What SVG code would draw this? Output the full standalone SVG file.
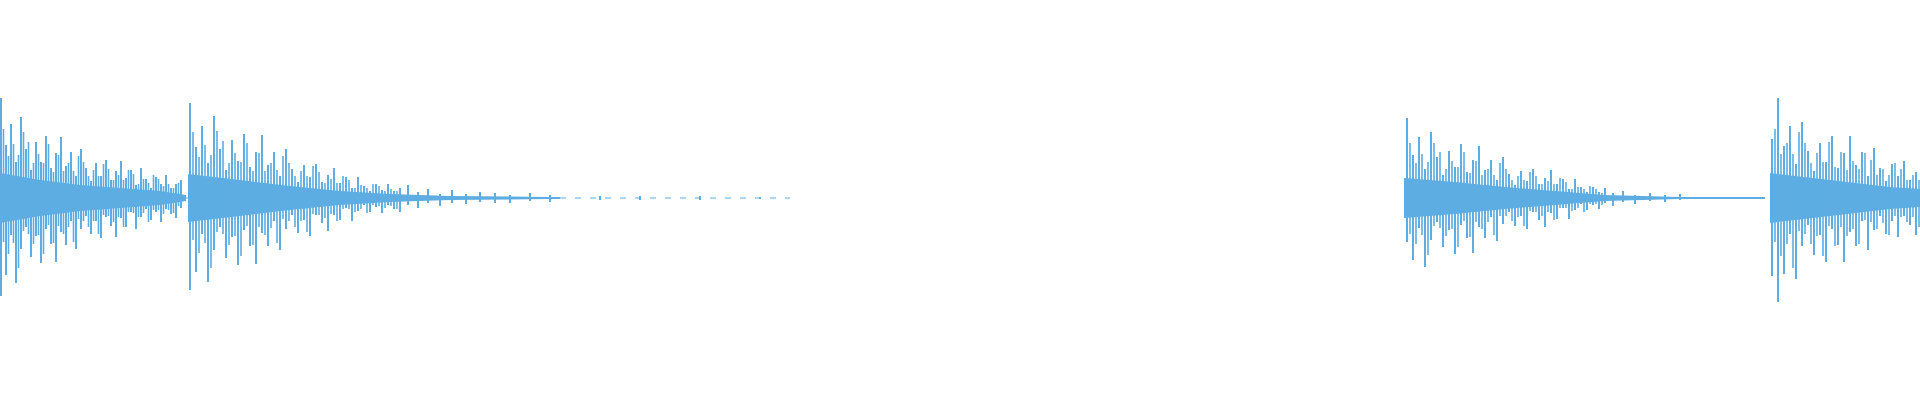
<svg xmlns="http://www.w3.org/2000/svg" width="1920" height="400" viewBox="0 0 1920 400">
<style>.w{stroke:#5DADE2;stroke-width:2;fill:none}.v{stroke:#5DADE2;stroke-width:1.6;fill:none}.c{fill:#5DADE2}.b{stroke:#5DADE2;stroke-width:1.2}.d{stroke:#5DADE2;stroke-width:1.2;stroke-dasharray:6 9}</style>
<rect width="1920" height="400" fill="#fff"/>
<g id="baseline"><path class="b" d="M0 198H440M1404 198H1765M1770 198H1920"/><path class="d" d="M440 198H790"/></g>
<g id="burst1">
<polygon class="c" points="0,173 40,180 80,185 120,188 160,191 186,195 186,201 160,205 120,208 80,211 40,216 0,223"/>
<path class="w" d="M1 98V296M6 145V275M11 124V235M16 162V283M21 117V249M26 149V227M31 170V257M36 142V236M41 162V263M46 136V229M51 168V244M56 153V262M61 137V232M66 166V245M71 152V221M76 176V249M81 149V229M86 168V216M91 181V234M96 163V221M101 176V238M106 160V217M111 180V226M116 171V237M121 161V218M126 178V227M131 170V212M136 185V229M141 168V217M146 179V209M151 188V220M156 177V212M161 184V222M166 175V209M171 188V214M176 184V218M181 180V208"/>
<path class="v" d="M3.5 129V242M8.5 156V254M13.5 144V243M18.5 155V268M23.5 132V231M28.5 142V234M33.5 163V244M38.5 154V235M43.5 163V254M48.5 144V225M53.5 172V243M58.5 155V226M63.5 171V234M68.5 163V227M73.5 171V242M78.5 156V219M83.5 162V221M88.5 176V227M93.5 170V221M98.5 176V234M103.5 164V215M108.5 169V216M113.5 180V222M118.5 175V217M123.5 180V227M128.5 170V212M133.5 174V213M138.5 184V217M143.5 179V213M148.5 183V222M153.5 175V210M158.5 179V210M163.5 186V214M168.5 184V210M173.5 188V213M178.5 183V206"/>
</g>
<g id="burst2">
<polygon class="c" points="188,174 240,180 290,186 340,191 390,194 450,196 550,197 560,197 560,199 550,199 450,200 390,202 340,205 290,210 240,216 188,222"/>
<path class="w" d="M190 103V290M196 147V272M202 126V234M208 163V282M214 116V250M220 149V227M226 170V258M232 140V237M238 161V265M244 134V230M250 167V246M256 152V264M262 135V233M268 165V246M274 152V221M280 176V250M286 149V229M292 169V215M298 182V233M304 165V220M310 177V236M316 164V215M322 182V223M328 175V231M334 168V215M340 183V220M346 177V208M352 188V221M358 177V211M364 186V205M370 191V212M376 184V207M382 190V213M388 184V205M394 191V209M400 188V212M408 185V205M418 192V208M428 189V203M440 194V206M452 190V203M466 194V204M480 192V202M495 193V203M510 195V203M530 193V201M550 195V202M600 196V200M640 196V200M700 196V200M760 197V199"/>
<path class="v" d="M193 132V240M199 157V253M205 145V243M211 155V268M217 131V232M223 141V234M229 163V245M235 153V236M241 162V256M247 143V226M253 171V245M259 153V227M265 171V235M271 163V228M277 170V243M283 156V219M289 163V221M295 176V227M301 171V221M307 176V232M313 166V214M319 172V215M325 183V218M331 179V214M337 183V221M343 176V209M349 180V209M355 188V212M361 185V209M367 188V213M373 184V205M379 186V206M385 191V208M391 189V206M397 191V209"/>
</g>
<g id="burst3">
<polygon class="c" points="1404,178 1455,182 1505,187 1555,191 1605,195 1680,197 1765,197 1765,199 1680,199 1605,201 1555,205 1505,209 1455,214 1404,218"/>
<path class="w" d="M1407 118V242M1413 155V260M1419 137V228M1425 169V267M1431 132V240M1437 157V222M1443 175V247M1449 151V230M1455 167V254M1461 144V225M1467 172V238M1473 160V253M1479 146V227M1485 170V238M1491 160V217M1497 180V241M1503 157V224M1509 174V212M1515 185V226M1521 171V216M1527 181V229M1533 169V212M1539 184V220M1545 178V227M1551 170V213M1557 184V219M1563 179V208M1569 189V219M1575 179V210M1581 187V204M1587 192V210M1593 187V205M1599 192V209M1605 188V203M1613 193V206M1623 191V202M1635 195V204M1650 193V201M1665 195V202M1680 194V200"/>
<path class="v" d="M1410 143V234M1416 163V244M1422 154V235M1428 162V255M1434 143V226M1440 152V228M1446 169V236M1452 161V229M1458 167V247M1464 152V221M1470 173V237M1476 161V222M1482 175V229M1488 169V222M1494 175V235M1500 163V216M1506 169V216M1512 180V221M1518 176V217M1524 180V226M1530 172V211M1536 176V212M1542 184V216M1548 181V212M1554 184V220M1560 178V208M1566 182V208M1572 189V211M1578 187V208M1584 189V212M1590 186V204M1596 189V204M1602 193V205"/>
</g>
<g id="burst4">
<polygon class="c" points="1770,173 1830,180 1890,187 1920,189 1920,207 1890,209 1830,216 1770,223"/>
<path class="w" d="M1772 139V276M1778 98V302M1784 146V274M1790 126V234M1796 164V279M1802 122V246M1808 151V225M1814 171V255M1820 143V235M1826 162V262M1832 136V229M1838 168V245M1844 153V262M1850 136V232M1856 165V246M1862 152V221M1868 176V250M1874 148V230M1880 168V216M1886 181V234M1892 164V221M1898 176V237M1904 161V216M1910 180V225M1916 172V235"/>
<path class="v" d="M1775 129V242M1781 154V256M1787 143V244M1793 154V268M1799 132V231M1805 143V234M1811 163V244M1817 153V236M1823 162V256M1829 142V226M1835 167V246M1841 152V227M1847 170V236M1853 161V229M1859 169V244M1865 153V220M1871 160V222M1877 175V229M1883 169V223M1889 175V235M1895 163V216M1901 169V217M1907 180V222M1913 175V217M1919 180V227"/>
</g>
</svg>
